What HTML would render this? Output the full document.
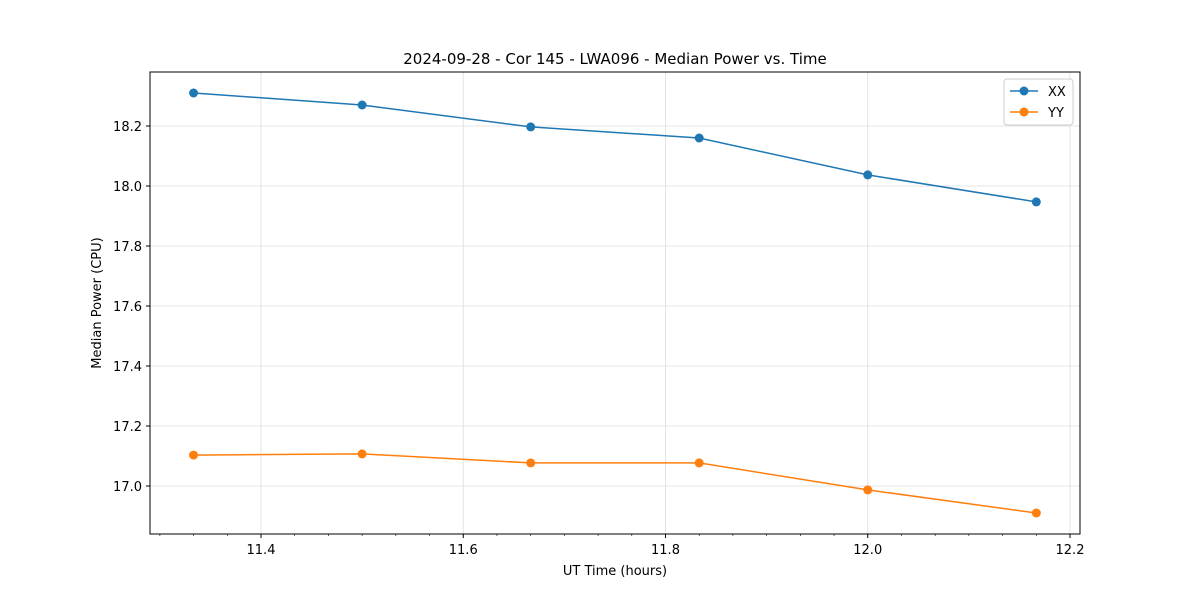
<!DOCTYPE html>
<html><head><meta charset="utf-8"><style>
body{margin:0;background:#fff;font-family:"Liberation Sans","DejaVu Sans",sans-serif}
</style></head><body>
<svg id="chart" width="1200" height="600" xmlns="http://www.w3.org/2000/svg" font-family="'DejaVu Sans','Liberation Sans',sans-serif">
<rect width="1200" height="600" fill="#fff"/>
<text x="615" y="64" text-anchor="middle" font-size="15">2024-09-28 - Cor 145 - LWA096 - Median Power vs. Time</text>
<g id="grid"></g><g id="axes"></g><g id="series"></g>
<text x="615" y="575" text-anchor="middle" font-size="13">UT Time (hours)</text>
<text transform="translate(101,303) rotate(-90)" text-anchor="middle" font-size="13">Median Power (CPU)</text>
<g>
<rect x="1004" y="79" width="69" height="46" fill="#fff" stroke="#ccc" rx="3"/>
<line x1="1010" y1="91" x2="1038" y2="91" stroke="#1f77b4" stroke-width="1.5"/><circle cx="1024" cy="91" r="4.5" fill="#1f77b4"/>
<text x="1048" y="96" font-size="13">XX</text>
<line x1="1010" y1="112" x2="1038" y2="112" stroke="#ff7f0e" stroke-width="1.5"/><circle cx="1024" cy="112" r="4.5" fill="#ff7f0e"/>
<text x="1048" y="117" font-size="13">YY</text>
</g>
</svg>
<script>
const times=[11.3333,11.5,11.6667,11.8333,12.0,12.1667];
const xxValues=[18.31,18.27,18.197,18.16,18.037,17.947];
const yyValues=[17.103,17.107,17.077,17.077,16.987,16.91];
const xTicks=[11.4,11.6,11.8,12.0,12.2];
const yTicks=[17.0,17.2,17.4,17.6,17.8,18.0,18.2];
const L=150,R=1080,T=72,B=534;
const xs=v=>261+(v-11.4)*1011.25;
const ys=v=>126+(18.2-v)*300;
const NS="http://www.w3.org/2000/svg";
function mk(tag,at,parent){const e=document.createElementNS(NS,tag);for(const k in at)e.setAttribute(k,at[k]);document.getElementById(parent).appendChild(e);return e;}
for(let i=0;i<=28;i++){const x=xs(11.3+i/30);if(x<L||x>R)continue;
 const t=mk('line',{x1:x,x2:x,y1:B,y2:B+2,stroke:'#000','stroke-width':0.6},'axes');
 
 }
xTicks.forEach(v=>{const x=xs(v);
 const g=mk('line',{x1:x,x2:x,y1:T,y2:B,stroke:'#dcdcdc','stroke-width':0.8},'grid');
 
 
 const t=mk('line',{x1:x,x2:x,y1:B,y2:B+4,stroke:'#000'},'axes');
 
 
 const l=mk('text',{x:x,y:B+20,'text-anchor':'middle','font-size':13},'axes');l.textContent=v.toFixed(1);
 
 });
yTicks.forEach(v=>{const y=ys(v);
 const g=mk('line',{x1:L,x2:R,y1:y,y2:y,stroke:'#dcdcdc','stroke-width':0.8},'grid');
 
 
 const t=mk('line',{x1:L-4,x2:L,y1:y,y2:y,stroke:'#000'},'axes');
 
 
 const l=mk('text',{x:L-8,y:y+5,'text-anchor':'end','font-size':13},'axes');l.textContent=v.toFixed(1);
 
 });
const fr=mk('rect',{x:L,y:T,width:R-L,height:B-T,fill:'none',stroke:'#000','stroke-width':1},'axes');


[[xxValues,'#1f77b4','xx'],[yyValues,'#ff7f0e','yy']].forEach(([vals,c,n])=>{
 const p=mk('polyline',{points:vals.map((v,i)=>xs(times[i])+','+ys(v)).join(' '),fill:'none',stroke:c,'stroke-width':1.5},'series');
 
 
 vals.forEach((v,i)=>{const d=mk('circle',{cx:xs(times[i]),cy:ys(v),r:4.5,fill:c},'series');
  
  });
});
</script>
</body></html>
